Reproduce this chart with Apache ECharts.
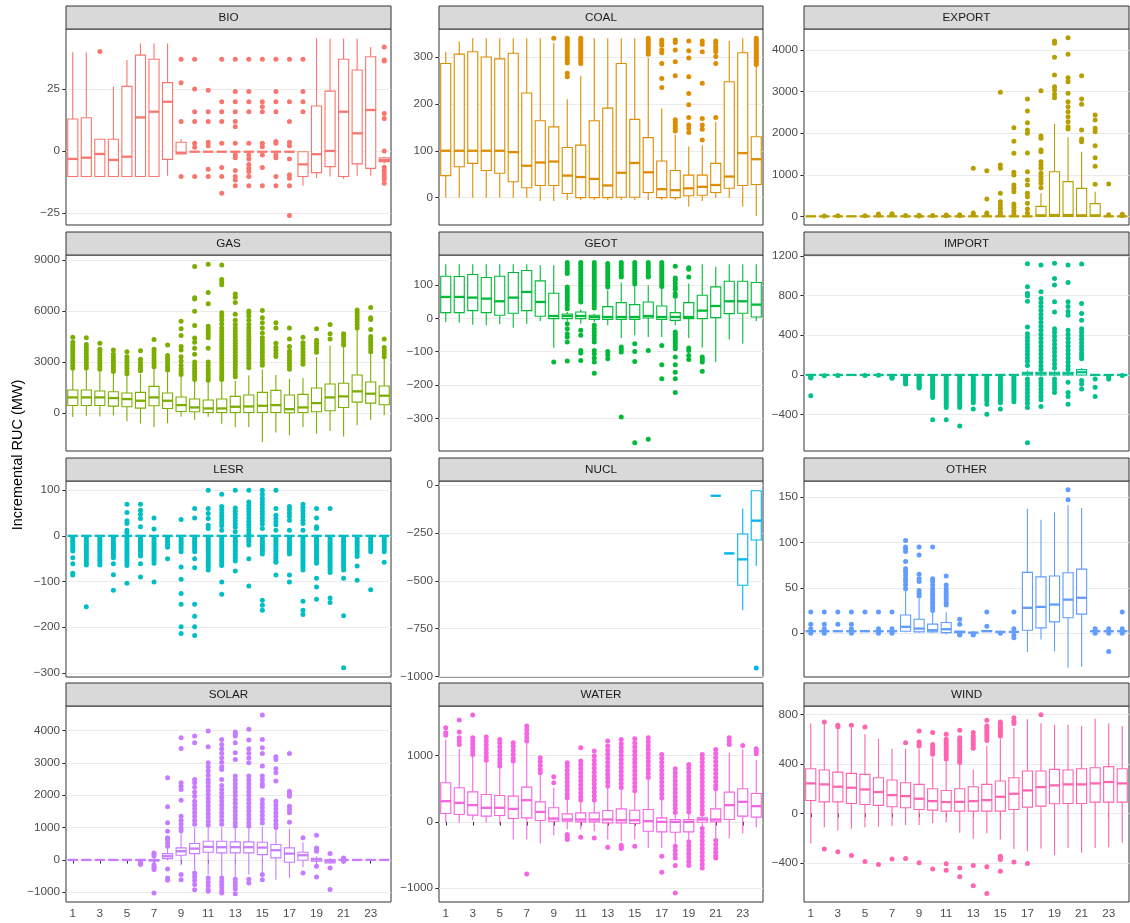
<!DOCTYPE html>
<html>
<head>
<meta charset="utf-8">
<title>Incremental RUC by hour</title>
<script src="https://cdn.jsdelivr.net/npm/echarts@6/dist/echarts.min.js"></script>
<style>
  html, body { margin: 0; padding: 0; background: #ffffff; }
  #chart { width: 1130px; height: 923px; }
</style>
</head>
<body>
<div id="chart"></div>
<script>
// Hours of the day (x categories)
const hours = ['1','2','3','4','5','6','7','8','9','10','11','12','13','14','15','16','17','18','19','20','21','22','23','24'];
const hourTickLabels = ['1','3','5','7','9','11','13','15','17','19','21','23'];

// Box statistics per hour: [lower whisker, Q1, median, Q3, upper whisker]; null = no data
const bioBox = [[-10.3,-10.3,-3.2,12.9,39.7],[-10.3,-10.3,-2.7,13.4,39.7],[-10.3,-10.3,-1.2,4.7,4.7],[-10.3,-10.3,-3.6,4.7,26],[-10.3,-10.3,-2.3,26,36.6],[-10.3,-10.3,13.5,38.6,43.3],[-10.3,-10.3,15.8,36.9,43.3],[-10,-3.4,19.8,27.5,43.3],[-1.2,-1.2,-0.7,3.5,4.7],[-0.3,-0.3,-0.3,-0.3,-0.3],[-0.3,-0.3,-0.3,-0.3,-0.3],[-0.3,-0.3,-0.3,-0.3,-0.3],[-0.3,-0.3,-0.3,-0.3,-0.3],[-0.3,-0.3,-0.3,-0.3,-0.3],[-0.3,-0.3,-0.3,-0.3,-0.3],[-0.3,-0.3,-0.3,-0.3,-0.3],[-0.3,-0.3,-0.3,-0.3,-0.3],[-14,-10.3,-5.4,-0.3,-0.3],[-11,-8.7,-1.3,18.1,45.3],[-10.3,-6.3,0,24.1,45.3],[-11.3,-10.3,15.8,36.9,45.3],[-10,-5.2,7.1,32.6,45.3],[-10,-7,16.5,37.9,41.9],[-5,-4.3,-3.6,-2.7,-2.3]];
const bioOut = [[],[],[40],[],[],[],[],[],[36.9,27.5,11.9,-10.3],[36.9,24.9,15.8,11.9,3.1,1.5,-10.3],[24.4,15.8,11.9,3.5,2.1,-7.4,-10.3],[36.9,19.8,15.8,11.9,3.1,-6.7,-10.3,-17],[36.9,23.9,19.8,15.8,11.9,9.8,3.1,-1.6,-2.7,-7.9,-10.3,-11.7,-14],[36.9,23.9,19.8,15.8,3.1,-1.6,-3.2,-5.4,-7,-8.3,-10.3,-14],[36.9,19.8,17.8,15.8,3.1,1.7,-1.6,-6.7,-14],[36.9,23.9,19.8,15.8,3.8,3.1,-1.6,-2.7,-10.3,-14],[36.9,19.8,11.9,3.5,2.1,-3.2,-9.6,-11,-14,-26],[36.9,23.9,19.8,15.8],[],[],[],[],[],[41.9,36.6,36.2,15.1,13.1,0,-6.6,-7.9,-9.2,-10.3,-11.3,-13]];

const coalBox = [[0,47,100,286,311],[0,66,100,306,333],[0,73,100,311,340],[0,58,100,300,340],[0,52,100,296,340],[0,34,97,308,340],[0,21,68,223,340],[-7,26,75,164,340],[-7,26,77,151,330],[-5,9,47,107,210],[-5,0,44,112,259],[-5,0,40,164,340],[-5,0,26,191,340],[-5,1,53,286,340],[-5,1,74,167,340],[-5,11,54,128,298],[-5,0,18,78,190],[-5,0,16,58,134],[-19,4,20,48,109],[-7,5,23,48,112],[0,11,27,73,162],[0,20,45,247,334],[-19,26,95,309,340],[-39,28,82,130,283]];
const coalOut = [[],[],[],[],[],[],[],[],[340],[340,336,332,327,322,316,310,304,299,293,287,265,258],[340,336,331,326,321,316,311,306,301,296,291,286],[],[],[],[],[340,336,331,326,321,316,311,306],[336,331,325,315,309,286,254,235],[336,331,315,290,260,166,160,154,148,142],[334,313,298,258,222,198,171,155,148,139],[334,327,311,244,169,155,146,123],[334,329,322,316,311,301,286,171],[],[],[340,336,332,328,324,320,316,312,308,304,300,296,292,288,284]];

const exportBox = [[0,0,0,0,0],[0,0,0,0,0],[0,0,0,0,0],[0,0,0,0,0],[0,0,0,0,0],[0,0,0,0,0],[0,0,0,0,0],[0,0,0,0,0],[0,0,0,0,0],[0,0,0,0,0],[0,0,0,0,0],[0,0,0,0,0],[0,0,0,0,0],[0,0,0,0,0],[0,0,0,0,0],[0,0,0,0,0],[0,0,0,0,0],[0,0,24,240,553],[0,0,32,1074,2220],[0,0,32,834,1900],[0,0,24,673,1555],[0,0,24,305,593],[0,0,0,0,0],[0,0,0,0,0]];
const exportOut = [[],[10],[12],[],[15],[30,55],[40,60],[20],[25,10],[20],[15,30],[20,40],[1154,80,40],[1098,417,80,40],[2982,1234,1154,553,353,273,192,112,50],[2132,1804,1515,1058,994,753,673,593,297,216,136,56],[2822,2533,2253,2076,1996,1523,1074,874,753,553,473,313,176,72],[3022,1932,1876,1595,1555,1315,1234,1154,1034,954,874,794,689],[4217,4160,3824,3399,3118,3038,2934,2854],[4297,3896,3335,3239,2958,2758,2637,2517,2397,2277,2156,2100],[3383,2822,2693,2076,1860,1796],[2437,2317,2116,2036,1700,1411,1202,770],[780,40],[50,20]];

const gasBox = [[-240,434,908,1342,2487],[-178,434,908,1342,2527],[-217,434,908,1283,2428],[-138,395,869,1244,2290],[-494,355,809,1165,2152],[-632,276,711,1204,2290],[-829,415,908,1559,2586],[-612,257,711,1165,2389],[-237,79,454,928,2112],[-415,59,316,809,1836],[-237,20,257,750,1796],[-651,20,257,809,1836],[-829,20,355,967,1895],[-829,20,375,1046,2191],[-1717,20,415,1204,2547],[-1165,20,454,1323,2231],[-1323,0,217,1046,1994],[-829,20,316,1086,2053],[-1224,59,572,1461,3277],[-1066,118,908,1698,3968],[-1402,316,967,1737,3968],[-730,632,1263,2231,4955],[-415,572,1125,1816,3573],[-138,474,1007,1579,3218]];
const gasOut = [[2620,2780,2950,3100,3280,3450,3620,3800,3980,4150,4450],[2640,2800,2980,3150,3320,3500,3680,3850,4020,4420],[2560,2720,2890,3060,3230,3400,3580,3750,4100],[2440,2600,2760,2930,3100,3270,3450,3700],[2300,2460,2620,2790,2960,3130,3300,3600],[2480,2640,2800,2970,3150,3650],[2720,2890,3060,3230,3400,3580,3750,4320],[2520,2690,2860,3030,3200,3380,3990],[2250,2420,2600,2800,3050,3300,3700,3900,4550,4950,5400],[1960,2120,2280,2450,2620,2800,3000,3450,3800,4150,4400,5150,5980,6700,6780,8620],[1920,2080,2250,2420,2600,2800,3000,3800,4420,4580,4750,4920,5100,6420,7080,8750],[1960,2120,2300,2480,2660,2840,3020,3200,3380,3560,3740,3920,4100,4280,4460,4640,4820,5000,5250,5480,5700,5900,7550,7700,7850,8700],[2120,2300,2480,2660,2840,3020,3200,3380,3560,3740,3920,4100,4280,4460,4640,4820,5000,5200,5450,5800,6500,6800,7000],[2660,2840,3020,3200,3380,3560,3740,3920,4100,4280,4460,4640,4820,5000,5200,5450,5700,5900,6000],[2800,2980,3160,3340,3520,3700,3880,4060,4240,4420,4700,5000,5300,5600,6020],[3320,3500,3680,3860,4100,5000,5300],[2560,2740,2920,3100,3280,3460,3640,3900,4350,5000],[2860,3040,3220,3400,3580,3760,3940,4120,4450],[3560,3740,3920,4100,4280,4950],[4350,4650,5200],[4000,4180,4360,4540,4650],[5000,5180,5360,5540,5720,5900,6060],[3600,3780,3960,4140,4320,4500,4900,5500,5600,6200],[3300,3480,3660,3850,4350]];

const geotBox = [[-11,17,64,126,162],[-13,17,64,125,162],[-19,23,62,131,162],[-21,17,59,122,162],[-18,9,51,126,162],[-28,15,62,137,162],[-16,23,79,143,162],[-9,6,49,112,159],[-88,-1,7,75,159],[-9,-1,7,13,19],[-16,-1,7,19,27],[-11,-3,4,9,14],[-21,-3,4,35,84],[-59,-3,4,47,107],[-51,-3,4,41,104],[-56,1,7,49,99],[-56,-3,4,37,109],[-21,-6,4,17,59],[-59,-1,4,47,104],[-87,-1,23,69,162],[-131,2,37,94,154],[-63,14,51,111,162],[-76,15,51,111,162],[-9,4,41,107,162]];
const geotOut = [[],[],[],[],[],[],[],[],[-131],[167,159,150,141,134,94,86,78,70,64,56,49,39,29,-16,-31,-46,-56,-71,-128],[167,160,152,144,136,128,120,112,104,96,88,80,72,64,56,49,-36,-51,-96,-104,-126],[167,159,151,143,135,127,119,111,103,95,87,79,71,63,55,47,39,31,-21,-31,-41,-51,-61,-71,-96,-106,-119,-131,-164],[164,156,148,140,132,124,116,108,100,94,-99,-109,-121],[167,160,152,144,136,128,124,-86,-93,-101,-295],[167,159,151,143,135,127,119,111,103,-76,-99,-129,-372],[167,159,151,143,135,127,124,-96,-362],[167,159,151,143,135,127,119,111,103,95,-81,-139,-181],[156,121,114,104,94,87,74,66,-41,-48,-55,-62,-69,-76,-84,-91,-116,-139,-161,-181,-222],[151,147,124,-89,-96,-111,-123],[-116,-123,-131,-158],[],[],[],[]];

const importBox = [[0,0,0,0,0],[0,0,0,0,0],[0,0,0,0,0],[0,0,0,0,0],[0,0,0,0,0],[0,0,0,0,0],[0,0,0,0,0],[0,0,0,0,0],[0,0,0,0,0],[0,0,0,0,0],[0,0,0,0,0],[0,0,0,0,0],[0,0,0,0,0],[0,0,0,0,0],[0,0,0,0,0],[0,0,0,0,0],[-10,0,14,27,45],[-10,0,14,27,45],[-10,0,14,27,45],[-10,0,14,27,45],[-10,0,27,54,70],[0,0,0,0,0],[0,0,0,0,0],[0,0,0,0,0]];
const importOut = [[-12,-22,-30,-209],[-8],[-5],[],[-5],[-4],[-12,-24,-34],[-15,-30,-45,-60,-75,-91],[-15,-30,-45,-60,-75,-90,-105,-120,-132],[-20,-40,-60,-80,-100,-120,-140,-160,-180,-200,-226,-452],[-20,-40,-60,-80,-100,-120,-140,-160,-180,-200,-220,-240,-260,-280,-300,-327,-452],[-20,-40,-60,-80,-100,-120,-140,-160,-180,-200,-220,-240,-260,-280,-300,-327,-513],[-20,-40,-60,-80,-100,-120,-140,-160,-180,-200,-220,-240,-260,-280,-344],[-20,-40,-60,-80,-100,-120,-140,-160,-180,-200,-220,-240,-260,-294,-395],[-20,-40,-60,-80,-100,-120,-140,-160,-180,-200,-220,-240,-260,-280,-344],[-20,-40,-60,-80,-100,-120,-140,-160,-180,-200,-220,-245,-270],[1121,888,820,797,743,483,415,380,345,310,275,240,205,170,135,95,-40,-75,-110,-145,-180,-215,-250,-285,-327,-682],[1107,837,770,730,690,650,610,570,530,490,450,410,370,330,290,250,210,170,130,90,55,-40,-75,-110,-145,-180,-215,-250,-317],[1124,972,905,736,635,466,430,390,350,310,270,230,190,150,110,70,-40,-75,-110,-140,-176],[1107,932,736,690,640,601,450,410,370,330,290,250,210,170,130,90,55,-74,-176,-216,-294],[1117,719,618,550,466,432,395,360,325,290,255,220,190,162,-57,-91,-142],[-40,-125,-216],[-20,-40],[-5]];

const lesrBox = [[0,0,0,0,0],[0,0,0,0,0],[0,0,0,0,0],[0,0,0,0,0],[0,0,0,0,0],[0,0,0,0,0],[0,0,0,0,0],[0,0,0,0,0],[0,0,0,0,0],[0,0,0,0,0],[0,0,0,0,0],[0,0,0,0,0],[0,0,0,0,0],[0,0,0,0,0],[0,0,0,0,0],[0,0,0,0,0],[0,0,0,0,0],[0,0,0,0,0],[0,0,0,0,0],[0,0,0,0,0],[0,0,0,0,0],[0,0,0,0,0],[0,0,0,0,0],[0,0,0,0,0]];
const lesrOut = [[-4,-9,-14,-19,-24,-29,-33,-48,-61,-82,-86],[-4,-9,-14,-19,-24,-29,-34,-39,-44,-49,-54,-59,-64,-155],[-4,-9,-14,-19,-24,-29,-34,-39,-44,-49,-54,-59,-64],[-4,-9,-14,-19,-24,-29,-34,-39,-44,-48,-61,-85,-119],[69,51,33,27,12,7,-4,-9,-14,-19,-24,-29,-34,-39,-44,-49,-54,-59,-65,-104],[69,56,47,38,20,-4,-9,-14,-19,-24,-29,-34,-39,-44,-61,-90],[39,15,-4,-9,-14,-19,-24,-29,-34,-39,-44,-49,-54,-60,-101],[-4,-9,-14,-19,-25,-50],[36,-4,-9,-14,-19,-24,-29,-35,-68,-95,-126,-150,-199,-214],[60,39,-4,-9,-14,-19,-24,-29,-35,-50,-70,-150,-176,-199,-218],[100,60,49,38,23,16,-4,-9,-14,-19,-24,-29,-34,-39,-44,-49,-54,-59,-64,-69,-75],[91,64,57,50,43,36,29,22,12,-4,-9,-14,-19,-24,-29,-34,-39,-44,-49,-54,-59,-65,-101,-128],[100,61,54,47,40,33,26,19,9,-4,-9,-14,-19,-24,-29,-34,-39,-44,-49,-55,-77],[100,74,67,60,53,46,39,32,25,18,11,4,-4,-9,-14,-20,-50,-110],[100,91,82,75,68,61,54,47,40,33,26,16,-4,-9,-14,-19,-24,-29,-34,-40,-141,-152,-163],[100,60,45,38,31,24,12,-4,-9,-14,-19,-24,-29,-34,-39,-44,-49,-55,-58,-86],[64,57,50,43,34,12,-4,-9,-14,-19,-24,-29,-34,-40,-86,-101],[69,62,55,48,41,34,27,12,-4,-9,-14,-19,-24,-29,-34,-39,-44,-49,-54,-59,-64,-69,-75,-143,-163,-172],[60,39,20,16,-4,-9,-14,-19,-24,-29,-34,-39,-44,-49,-54,-60,-93,-112,-139],[60,-4,-9,-14,-19,-24,-29,-34,-39,-44,-49,-54,-59,-64,-69,-74,-80,-136,-146],[-4,-9,-14,-19,-24,-29,-34,-39,-44,-49,-54,-59,-64,-69,-75,-93,-175,-289],[-4,-9,-14,-19,-24,-29,-34,-39,-45,-66,-97],[-4,-9,-14,-19,-24,-29,-35,-118],[-4,-9,-14,-19,-24,-29,-35,-58]];

const nuclBox = [null,null,null,null,null,null,null,null,null,null,null,null,null,null,null,null,null,null,null,null,[-56,-56,-56,-56,-56],[-357,-357,-357,-357,-357],[-653,-523,-388,-256,-122],[-422,-287,-186,-30,-30]];
const nuclOut = [[],[],[],[],[],[],[],[],[],[],[],[],[],[],[],[],[],[],[],[],[],[],[],[-955]];

const otherBox = [[2.2,2.2,2.2,2.2,2.2],[2.2,2.2,2.2,2.2,2.2],[2.2,2.2,2.2,2.2,2.2],[2.2,2.2,2.2,2.2,2.2],[2.2,2.2,2.2,2.2,2.2],[2.2,2.2,2.2,2.2,2.2],[2.2,2.2,2.2,2.2,2.2],[0.7,2.2,7,20,47],[0.7,1.5,5.1,15.4,38],[0.7,1.5,3.3,10,24],[-1.5,0.7,4.4,11.8,23],[0.7,0.7,1.5,2.2,2.2],[0.7,0.7,0.7,0.7,0.7],[2.2,2.2,2.2,3,3],[1.5,1.5,1.5,1.5,1.5],[1.5,1.5,1.5,1.5,1.5],[-20.6,3.3,28,67,137],[-7,5.9,29,62,125],[-20,12.5,31.6,63,133],[-38,17,37,66.5,141],[-37,21,39,70.6,138],[2.2,2.2,2.2,2.2,2.2],[2.2,2.2,2.2,2.2,2.2],[2.2,2.2,2.2,2.2,2.2]];
const otherOut = [[23.5,10,5,0],[23.5,10,5,0],[23.5,10],[23.5,10,5,0],[23.5],[23.5,5,0],[23.5,5,0],[102,95,93,90,79,71,68,64,60,57,53,49],[95,86,65,60,57,47,44,41],[95,60,57,53,49,46,43,40,37,34,31,28,25],[63,53,49,46,43,40,37,34,31],[15.4,10,-1,-2],[-0.5,-2],[23.5,7.7],[0],[23.5,5,-2,-5],[],[],[],[158,147],[],[5,0],[5,0,-20],[23.5,5,0]];

const solarBox = [[0,0,0,0,0],[0,0,0,0,0],[0,0,0,0,0],[0,0,0,0,0],[0,0,0,0,0],[-20,-5,0,0,10],[-100,-30,-10,10,60],[-21,41,114,196,372],[-176,145,269,372,857],[-320,196,351,506,992],[-455,238,403,578,1023],[-506,217,393,578,992],[-537,217,393,558,992],[-455,217,393,558,992],[-434,165,382,547,1023],[-610,62,300,475,940],[-558,-72,196,372,961],[-227,-10,145,238,547],[-93,-41,10,52,114],[-120,-93,-41,10,60],[0,0,0,0,0],[0,0,0,0,0],[0,0,0,0,0],[0,0,0,0,0]];
const solarOut = [[],[],[],[],[],[-41,-93,-145],[217,165,120,-150,-200,-250,-300,-1023],[2541,1642,1147,888,682,630,527,424,-279,-558,-630],[3781,3450,2386,2280,2180,1849,1353,1230,1110,990,900,-455,-610],[3832,3626,2490,2386,2250,2100,1973,1818,1700,1580,1460,1340,1220,1100,-403,-520,-640,-760,-920],[3987,3502,3006,2880,2750,2620,2490,2386,2270,2150,2030,1910,1790,1670,1550,1430,1310,1190,1080,-560,-680,-800,-920,-971],[3729,3574,3440,3300,3160,3020,2880,2800,2490,2300,2180,2060,1940,1820,1700,1580,1460,1340,1220,1100,-560,-660,-760,-860,-960,-1023],[3956,3890,3832,3626,3316,3109,2593,2470,2350,2230,2110,1990,1870,1750,1630,1510,1390,1270,1150,1050,-600,-700,-800,-900,-1043],[4039,3709,3440,3300,3150,3006,2593,2470,2350,2230,2110,1990,1870,1750,1630,1510,1390,1270,1150,1050,-600,-713],[4483,3729,3471,3295,2903,2593,2480,2360,2283,1860,1740,1620,1500,1380,1260,1140,-455,-610],[3192,3109,2820,2696,2438,1818,1700,1580,1460,1340,1220,1100,1000],[3295,2128,2050,1973,1663,1560,1456,1167],[682,-403],[764,372,320,269,-196,-527],[196,-248,-919],[60,40,-40],[],[],[]];

const waterBox = [[-15,126,312,589,1244],[-15,111,287,514,1103],[25,101,252,453,1028],[-15,86,212,413,892],[-40,96,212,398,831],[-267,50,196,388,917],[-267,60,327,524,1204],[-327,20,151,302,715],[-202,10,50,212,514],[-116,10,35,121,338],[-116,0,35,136,312],[-141,0,35,136,312],[-267,-15,35,171,514],[-292,-15,25,196,489],[-267,-25,25,176,438],[-393,-141,10,186,640],[-393,-151,0,60,338],[-408,-156,0,35,111],[-267,-151,0,35,121],[-76,-5,35,60,96],[-242,0,35,196,489],[-252,35,252,448,1043],[-176,86,302,499,1093],[-81,71,237,428,932]];
const waterOut = [[1421,1345,1305],[1537,1355,1270,1219,1169],[1612,1270,1220,1170,1120,1070,1018],[1280,1220,1160,1100,1040,980,930],[1244,1190,1130,1070,1010,950,890,841],[1194,1140,1080,1020,960,917],[1446,1390,1330,1270,1219,-786],[967,910,850,790,740],[680,589],[892,840,780,720,660,600,540,480,420,363,-191,-230,-267],[1118,917,860,800,740,680,620,560,500,440,380,330,-232],[1068,992,930,870,810,750,690,630,570,510,450,390,330,-242],[1219,1143,1080,1020,960,900,840,780,720,660,600,540,-383],[1244,1180,1120,1060,1000,940,880,820,760,700,640,580,520,-353,-378,-403],[1254,1190,1130,1070,1010,950,890,830,770,710,650,590,530,470,-368],[1270,1210,1150,1090,1030,970,910,850,790,730,670],[1018,960,900,840,780,720,660,600,540,480,420,360,-519,-761],[801,740,680,620,560,500,440,380,320,260,200,140,-368,-430,-490,-544,-660,-1073],[866,810,750,690,630,570,510,450,390,330,270,210,150,-300,-360,-420,-480,-540,-600,-660],[1018,960,900,840,780,720,660,600,540,480,420,360,300,240,180,120,-100,-160,-220,-280,-340,-400,-460,-520,-580,-640,-695],[1093,1030,970,910,850,790,730,670,610,550,500,-280,-340,-400,-460,-510,-544],[1270,1220,1169],[1153],[1103,1065,1028]];

const windBox = [[-243,105,243,361,728],[-111,94,235,351,720],[-138,94,216,334,693],[-124,81,208,324,693],[-111,73,194,316,639],[-108,65,173,289,604],[-102,54,148,270,523],[-94,46,140,248,523],[-94,32,119,235,518],[-76,27,100,200,450],[-70,19,92,186,423],[-156,19,94,200,396],[-205,19,100,216,356],[-162,19,108,235,545],[-210,19,135,262,604],[-286,32,159,289,690],[-305,51,186,343,761],[-283,59,213,343,728],[-337,78,227,356,717],[-278,81,235,351,717],[-318,81,235,361,707],[-278,92,243,369,766],[-272,92,254,378,728],[-237,92,243,361,707]];
const windOut = [[],[739,-286],[712,701,-310],[712,-340],[699,-388],[-413],[-367],[572,-364],[666,577,560,545,-399],[653,558,538,518,498,478,-448],[639,599,580,560,540,520,500,480,460,440,-407,-458],[672,612,592,572,552,532,512,492,472,452,432,412,-440,-512],[653,626,606,586,566,546,526,-421,-583],[752,707,690,670,650,630,610,590,-431,-647],[739,725,710,695,680,665,650,638,626,-345,-360,-372,-467],[774,745,726,-391],[-405],[798],[],[],[],[],[],[]];

// Facet names, colours, y-axis extents and tick labels
const facetNames = ['BIO','COAL','EXPORT','GAS','GEOT','IMPORT','LESR','NUCL','OTHER','SOLAR','WATER','WIND'];
const facetColors = ['#F8766D','#DE8C00','#B79F00','#7CAE00','#00BA38','#00C08B','#00BFC4','#00B4F0','#619CFF','#C77CFF','#F564E3','#FF64B0'];
const facetBoxes = [bioBox, coalBox, exportBox, gasBox, geotBox, importBox, lesrBox, nuclBox, otherBox, solarBox, waterBox, windBox];
const facetOutliers = [bioOut, coalOut, exportOut, gasOut, geotOut, importOut, lesrOut, nuclOut, otherOut, solarOut, waterOut, windOut];
const yExtents = [[-29.8,49.1],[-58.3,359.6],[-208,4505],[-2250,9296],[-397,189.5],[-766,1208],[-309,120],[-1002,21],[-48.2,167.6],[-1302,4762],[-1209,1748],[-715,868]];
const yTicks = [[-25,0,25],[0,100,200,300],[0,1000,2000,3000,4000],[0,3000,6000,9000],[-300,-200,-100,0,100],[-400,0,400,800,1200],[-300,-200,-100,0,100],[-1000,-750,-500,-250,0],[0,50,100,150],[-1000,0,1000,2000,3000,4000],[-1000,0,1000],[-400,0,400,800]];

const yTitle = 'Incremental RUC (MW)';

// ---- layout ----
const FONT = "'Liberation Sans', Arial, Helvetica, sans-serif";
const colLeft = [66, 439, 804];
const colWidth = [325, 324, 325];
const rowTop = [29, 255, 481, 706];
const plotH = 196;
const stripH = 23;

const grids = [], xAxes = [], yAxes = [], series = [], graphics = [];
const minusFmt = v => String(v).replace('-', '\u2212');

facetNames.forEach((name, k) => {
  const row = Math.floor(k / 3), col = k % 3;
  const color = facetColors[k];
  const isBottom = row === 3;

  grids.push({
    left: colLeft[col], top: rowTop[row], width: colWidth[col], height: plotH,
    show: true, borderColor: '#333333', borderWidth: 1, backgroundColor: '#ffffff'
  });

  xAxes.push({
    type: 'category', gridIndex: k, data: hours, boundaryGap: true,
    axisLine: { show: false },
    axisTick: { show: isBottom, alignWithLabel: true, interval: 1, length: 3.7, lineStyle: { color: '#333333', width: 1 } },
    axisLabel: {
      show: isBottom, interval: 1, margin: 6, color: '#4D4D4D', fontSize: 11.7, fontFamily: FONT,
      formatter: v => hourTickLabels.includes(v) ? v : ''
    },
    splitLine: { show: false }
  });

  yAxes.push({
    type: 'value', gridIndex: k, min: yExtents[k][0], max: yExtents[k][1], scale: true,
    axisLine: { show: false },
    axisTick: { show: true, length: 3.7, lineStyle: { color: '#333333', width: 1 }, customValues: yTicks[k] },
    axisLabel: { color: '#4D4D4D', fontSize: 11.7, fontFamily: FONT, margin: 6, customValues: yTicks[k], formatter: minusFmt },
    splitLine: { show: true, lineStyle: { color: '#EBEBEB', width: 1 } }
  });

  // outlying points
  const pts = [];
  facetOutliers[k].forEach((vals, i) => vals.forEach(v => pts.push([i, v])));
  series.push({
    type: 'scatter', xAxisIndex: k, yAxisIndex: k, data: pts,
    symbol: 'circle', symbolSize: 5, itemStyle: { color: color, opacity: 1 },
    silent: true, z: 2
  });

  // boxes with whiskers (no caps) and a heavier median line
  const boxes = [];
  facetBoxes[k].forEach((b, i) => { if (b) boxes.push([i].concat(b)); });
  series.push({
    type: 'custom', xAxisIndex: k, yAxisIndex: k, data: boxes, z: 3, silent: true,
    encode: { x: 0, y: [1, 2, 3, 4, 5] },
    renderItem: (params, api) => {
      const x = api.value(0);
      const pLo = api.coord([x, api.value(1)]);
      const pQ1 = api.coord([x, api.value(2)]);
      const pMed = api.coord([x, api.value(3)]);
      const pQ3 = api.coord([x, api.value(4)]);
      const pHi = api.coord([x, api.value(5)]);
      const bw = api.size([1, 0])[0] * 0.745;
      const cx = pMed[0];
      const lw = 1.1;
      return {
        type: 'group',
        children: [
          { type: 'line', shape: { x1: cx, y1: pHi[1], x2: cx, y2: pQ3[1] }, style: { stroke: color, lineWidth: lw } },
          { type: 'line', shape: { x1: cx, y1: pQ1[1], x2: cx, y2: pLo[1] }, style: { stroke: color, lineWidth: lw } },
          { type: 'rect', shape: { x: cx - bw / 2, y: pQ3[1], width: bw, height: pQ1[1] - pQ3[1] }, style: { fill: '#ffffff', stroke: color, lineWidth: lw } },
          { type: 'line', shape: { x1: cx - bw / 2, y1: pMed[1], x2: cx + bw / 2, y2: pMed[1] }, style: { stroke: color, lineWidth: 2.3 } }
        ]
      };
    }
  });

  // facet strip
  graphics.push({
    type: 'rect',
    shape: { x: colLeft[col], y: rowTop[row] - stripH, width: colWidth[col], height: stripH },
    style: { fill: '#D9D9D9', stroke: '#333333', lineWidth: 1 },
    z: 10
  });
  graphics.push({
    type: 'text',
    x: colLeft[col] + colWidth[col] / 2, y: rowTop[row] - stripH / 2 + 0.5,
    style: { text: name, fill: '#1A1A1A', font: '11.7px ' + FONT, textAlign: 'center', textVerticalAlign: 'middle' },
    z: 11
  });
});

graphics.push({
  type: 'text', x: 18, y: 455, rotation: Math.PI / 2,
  style: { text: yTitle, fill: '#000000', font: '14.5px ' + FONT, textAlign: 'center', textVerticalAlign: 'middle' },
  z: 11
});

const chart = echarts.init(document.getElementById('chart'), null, { renderer: 'canvas' });
chart.setOption({
  animation: false,
  backgroundColor: '#ffffff',
  grid: grids,
  xAxis: xAxes,
  yAxis: yAxes,
  series: series,
  graphic: { elements: graphics }
});
</script>
</body>
</html>
